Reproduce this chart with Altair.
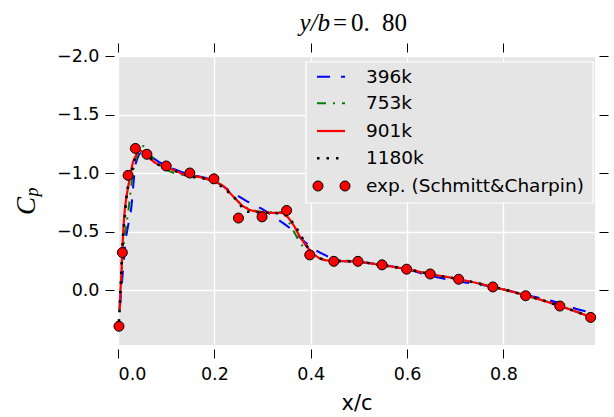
import altair as alt
import pandas as pd

# ---- experimental pressure coefficients (Schmitt & Charpin), y/b = 0.80 ----
exp_x = [0.002, 0.009, 0.021, 0.036, 0.060, 0.100, 0.149, 0.199, 0.250, 0.299,
         0.350, 0.398, 0.448, 0.498, 0.548, 0.599, 0.648, 0.707, 0.778, 0.846,
         0.917, 0.981]
exp_cp = [0.31, -0.32, -0.98, -1.21, -1.16, -1.06, -1.00, -0.95, -0.615, -0.625,
          -0.68, -0.30, -0.245, -0.245, -0.215, -0.178, -0.137, -0.092, -0.026,
          0.049, 0.137, 0.234]

# ---- computed Cp at four mesh sizes ----
x_396k = [0.004, 0.010, 0.016, 0.021, 0.028, 0.033, 0.036, 0.040, 0.048, 0.060,
          0.083, 0.118, 0.138, 0.200, 0.239, 0.267, 0.298, 0.322, 0.353, 0.377,
          0.403, 0.429, 0.460, 0.500, 0.550, 0.600, 0.650, 0.690, 0.780, 0.850,
          0.927, 0.950, 0.980]
cp_396k = [0.15, -0.15, -0.43, -0.55, -0.72, -0.95, -1.06, -1.12, -1.17, -1.16,
           -1.10, -1.03, -1.00, -0.93, -0.83, -0.76, -0.695, -0.63, -0.54, -0.45,
           -0.36, -0.30, -0.25, -0.24, -0.215, -0.175, -0.12, -0.086, -0.025, 0.045,
           0.125, 0.16, 0.19]

x_753k = [0.003, 0.008, 0.012, 0.017, 0.021, 0.025, 0.030, 0.036, 0.042, 0.048,
          0.053, 0.060, 0.070, 0.080, 0.104, 0.142, 0.170, 0.197, 0.218, 0.239,
          0.260, 0.287, 0.315, 0.340, 0.353, 0.365, 0.377, 0.398, 0.420, 0.440,
          0.495, 0.543, 0.600, 0.647, 0.710, 0.780, 0.850, 0.920, 0.985]
cp_753k = [0.17, -0.15, -0.40, -0.55, -0.66, -0.80, -0.98, -1.10, -1.17, -1.21,
           -1.23, -1.20, -1.14, -1.09, -1.02, -0.98, -0.965, -0.93, -0.89, -0.80,
           -0.72, -0.675, -0.665, -0.665, -0.59, -0.50, -0.41, -0.32, -0.27, -0.26,
           -0.245, -0.215, -0.178, -0.137, -0.09, -0.025, 0.05, 0.14, 0.237]

x_901k = [0.003, 0.007, 0.010, 0.014, 0.017, 0.021, 0.024, 0.031, 0.036, 0.041,
          0.046, 0.052, 0.060, 0.070, 0.080, 0.100, 0.121, 0.142, 0.170, 0.197,
          0.218, 0.239, 0.260, 0.287, 0.315, 0.339, 0.353, 0.365, 0.377, 0.398,
          0.419, 0.440, 0.495, 0.543, 0.600, 0.647, 0.710, 0.780, 0.850, 0.920,
          0.985]
cp_901k = [0.17, -0.14, -0.43, -0.68, -0.78, -0.88, -0.95, -1.09, -1.14, -1.18,
           -1.19, -1.18, -1.15, -1.11, -1.08, -1.05, -1.015, -0.98, -0.965, -0.93,
           -0.89, -0.80, -0.715, -0.67, -0.66, -0.66, -0.62, -0.55, -0.46, -0.34,
           -0.27, -0.25, -0.243, -0.215, -0.178, -0.137, -0.09, -0.025, 0.05, 0.14,
           0.237]

x_1180k = [0.002, 0.004, 0.010, 0.014, 0.017, 0.028, 0.035, 0.040, 0.050, 0.060,
           0.080, 0.100, 0.142, 0.197, 0.239, 0.270, 0.315, 0.345, 0.370, 0.400,
           0.420, 0.440, 0.495, 0.543, 0.600, 0.647, 0.710, 0.780, 0.850, 0.920,
           0.985]
cp_1180k = [0.27, 0.11, -0.43, -0.63, -0.77, -1.00, -1.12, -1.20, -1.20, -1.16,
            -1.08, -1.05, -0.98, -0.93, -0.80, -0.67, -0.66, -0.65, -0.53, -0.33,
            -0.27, -0.25, -0.243, -0.215, -0.178, -0.137, -0.09, -0.025, 0.05,
            0.14, 0.237]

legend_labels = ["396k", "753k", "901k", "1180k", "exp. (Schmitt&Charpin)"]
x_ticks = [0.0, 0.2, 0.4, 0.6, 0.8]
y_ticks = [-2.0, -1.5, -1.0, -0.5, 0.0]

PLOT_W, PLOT_H = 477, 289
PAD = {"left": 118, "top": 56, "right": 19, "bottom": 72}
BG = "#e5e5e5"
FONT = "DejaVu Sans"
SERIF = "Liberation Serif"


def frame(xs, cps):
    return pd.DataFrame({"x": xs, "cp": cps})


x_scale = alt.Scale(domain=[0.0, 0.99], nice=False, zero=False)
y_scale = alt.Scale(domain=[-2.0, 0.47], nice=False, zero=False, reverse=True)

ticks = dict(tickSize=9, tickColor="black", tickWidth=1, domain=False, offset=4)

x_bottom = alt.Axis(values=x_ticks, format=".1f", title="x/c", grid=True,
                    gridColor="white", gridWidth=1.3, labelFont=FONT,
                    labelFontSize=17.5, labelColor="black", labelPadding=7,
                    titleFont=FONT, titleFontSize=21, titleFontWeight="normal",
                    titleColor="black", titlePadding=10, **ticks)
x_top = alt.Axis(orient="top", values=x_ticks, labels=False, title="",
                 grid=False, **ticks)
y_left = alt.Axis(values=y_ticks, format=".1f", title="", grid=True,
                  gridColor="white", gridWidth=1.3, labelFont=FONT,
                  labelFontSize=17.5, labelColor="black", labelPadding=6,
                  **ticks)
y_right = alt.Axis(orient="right", values=y_ticks, labels=False, title="",
                   grid=False, **ticks)


def curve(df, color, dash, width, xaxis, yaxis):
    props = dict(color=color, strokeWidth=width, interpolate="monotone")
    if dash:
        props["strokeDash"] = dash
    return alt.Chart(df).mark_line(**props).encode(
        x=alt.X("x:Q", scale=x_scale, axis=xaxis),
        y=alt.Y("cp:Q", scale=y_scale, axis=yaxis),
    )


DASH_396 = [13, 11]
DASH_753 = [9, 7, 2, 7]
DASH_1180 = [2.5, 7]

c396 = curve(frame(x_396k, cp_396k), "#0000ff", DASH_396, 2, x_bottom, y_left)
c753 = curve(frame(x_753k, cp_753k), "#008000", DASH_753, 2, x_top, y_right)
c901 = curve(frame(x_901k, cp_901k), "#ff0000", None, 2.2, None, None)
c1180 = curve(frame(x_1180k, cp_1180k), "black", DASH_1180, 2.6, None, None)

pts = alt.Chart(frame(exp_x, exp_cp)).mark_circle(
    color="#ff0000", stroke="black", strokeWidth=1, size=100, opacity=1
).encode(
    x=alt.X("x:Q", scale=x_scale, axis=None),
    y=alt.Y("cp:Q", scale=y_scale, axis=None),
)

# ---- legend box (upper right, inside the axes) ----
one = pd.DataFrame({"k": [0]})
LX0, LX1, LY0, LY1 = 188, 475, 6, 147
row_y = [20.7, 47.3, 75.0, 102.3, 130.0]
sample_x0, sample_x1, text_x = 199, 227, 248

legend_layers = [
    alt.Chart(one).mark_rect(fill=BG, stroke="white", strokeWidth=1.2).encode(
        x=alt.value(LX0), x2=alt.value(LX1), y=alt.value(LY0), y2=alt.value(LY1))
]
styles = [("#0000ff", DASH_396, 2), ("#008000", DASH_753, 2),
          ("#ff0000", None, 2.2), ("black", DASH_1180, 2.6)]
for (color, dash, w), yy in zip(styles, row_y[:4]):
    props = dict(color=color, strokeWidth=w)
    if dash:
        props["strokeDash"] = dash
    legend_layers.append(
        alt.Chart(one).mark_rule(**props).encode(
            x=alt.value(sample_x0), x2=alt.value(sample_x1), y=alt.value(yy)))
for xx in (sample_x0 + 1, sample_x1):
    legend_layers.append(
        alt.Chart(one).mark_circle(color="#ff0000", stroke="black",
                                   strokeWidth=1, size=100, opacity=1).encode(
            x=alt.value(xx), y=alt.value(row_y[4])))
for label, yy in zip(legend_labels, row_y):
    legend_layers.append(
        alt.Chart(one).mark_text(align="left", baseline="middle", font=FONT,
                                 fontSize=18.5, color="black", text=label).encode(
            x=alt.value(text_x), y=alt.value(yy)))


# ---- title y/b = 0.80 set as math-style pieces ----
def title_piece(text, x, align, italic=False):
    props = dict(align=align, baseline="alphabetic", font=SERIF, fontSize=25,
                 color="black", text=text)
    if italic:
        props["fontStyle"] = "italic"
    return alt.Chart(one).mark_text(**props).encode(
        x=alt.value(x), y=alt.value(-25))


title_layers = [
    title_piece("y/b", 212, "right", italic=True),
    title_piece("=", 222, "center"),
    title_piece("0.", 233, "left"),
    title_piece("80", 264, "left"),
]

# ---- C_p axis label ----
cp_c = alt.Chart(one).mark_text(
    align="center", baseline="alphabetic", font=SERIF,
    fontStyle="italic", fontSize=27, angle=270, color="black", text="C").encode(
    x=alt.value(-83), y=alt.value(150))
cp_p = alt.Chart(one).mark_text(
    align="center", baseline="alphabetic", font=SERIF,
    fontStyle="italic", fontSize=18, angle=270, color="black", text="p").encode(
    x=alt.value(-80), y=alt.value(136))

chart = alt.layer(
    c396, c753, c901, c1180, pts, *legend_layers, *title_layers, cp_c, cp_p
).resolve_axis(
    x="independent", y="independent"
).properties(
    width=PLOT_W, height=PLOT_H, padding=PAD,
    autosize=alt.AutoSizeParams(type="none"),
    background="white",
).configure_view(
    fill=BG, stroke=None
)

chart.save("out.html", embed_options={"renderer": "svg", "actions": False})
